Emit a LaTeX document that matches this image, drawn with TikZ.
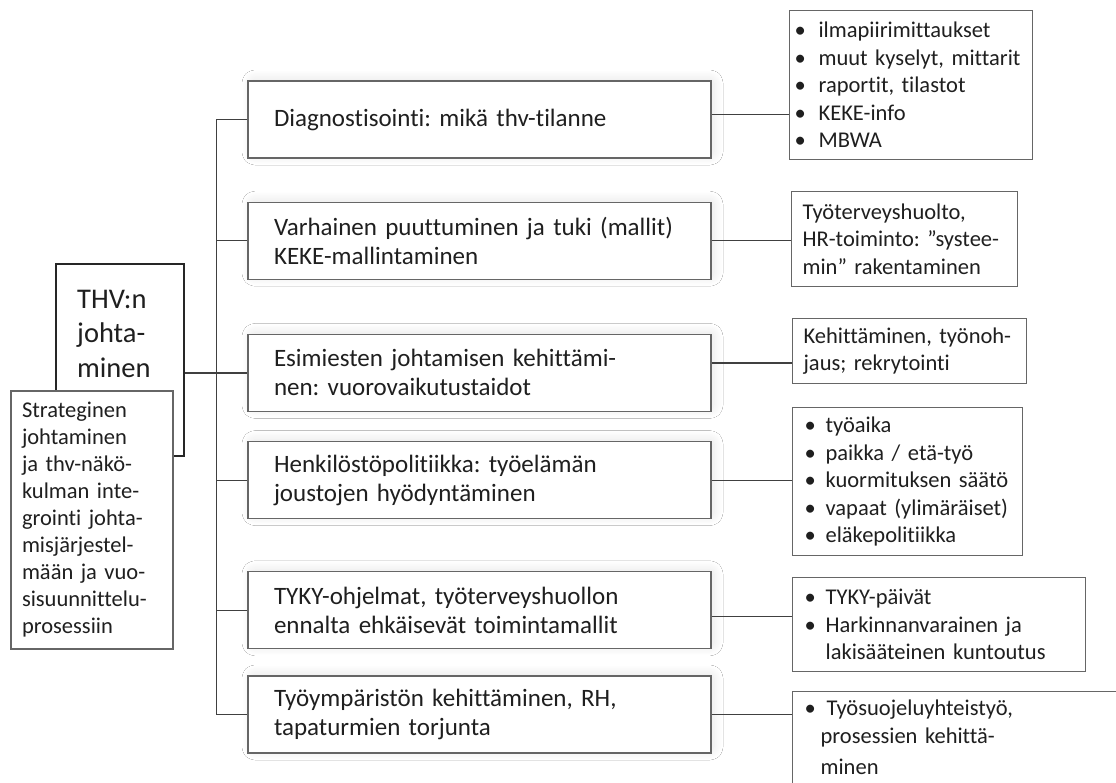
\documentclass[tikz,border=0pt]{standalone}
\usepackage{fontspec}
\setmainfont{Carlito}[Ligatures={NoCommon}]
\usetikzlibrary{positioning, shadows.blur}

\tikzset{
  leftbox/.style={draw=black!60, line width=1.2pt, fill=white, rectangle, minimum width=463pt, minimum height=77pt, text width=411pt, inner xsep=26pt, align=left, text=black!88, font=\fontsize{25}{29}\selectfont, blur shadow={shadow xshift=3pt, shadow yshift=2pt, shadow blur radius=9pt, shadow opacity=10, shadow blur steps=24, shadow blur extra rounding=4pt}},
  infobox/.style={draw=black!60, line width=1.2pt, fill=white, rectangle, anchor=north west, align=left, inner xsep=12pt, text=black!88, font=\fontsize{22.5}{27.5}\selectfont},
  conn/.style={draw=black!75, line width=1.2pt},
}
\newcommand{\bul}[1][21pt]{\makebox[#1][l]{\textbullet}}

\begin{document}
\frenchspacing
\begin{tikzpicture}[x=1pt, y=-1pt]
    \useasboundingbox (0,0) rectangle (1116,782);
    \clip (0,0) rectangle (1116,782);
    \fill[white] (0,0) rectangle (1116,782);

    % main box and the strategy note on top of it
    \node (thv) [draw=black!85, line width=2pt, rectangle, minimum width=128pt, minimum height=192pt] at (120,360) {};
    \node (thvtext) [anchor=north west, inner sep=0pt, align=left, text=black!88, font=\fontsize{28.5}{34.5}\selectfont] at (77,290) {THV:n\\johta-\\minen};
    \node (strat) [draw=black!60, line width=1.2pt, fill=white, rectangle, minimum width=162pt, minimum height=258pt, text width=140pt, inner xsep=11pt, align=left, text=black!88, font=\fontsize{22.5}{27}\selectfont] at (92,520)
      {Strateginen\\johtaminen\\ja thv-näkö-\\kulman inte-\\grointi johta-\\misjärjestel-\\mään ja vuo-\\sisuunnittelu-\\prosessiin};

    % middle column
    \node (diag) [leftbox] at (479.5,119.5) {Diagnostisointi: mikä thv-tilanne};
    \node (varh) [leftbox, below=43pt of diag] {Varhainen puuttuminen ja tuki (mallit)\\KEKE-mallintaminen};
    \node (esim) [leftbox, below=54pt of varh] {Esimiesten johtamisen kehittämi-\\nen: vuorovaikutustaidot};
    \node (henk) [leftbox, below=29pt of esim] {Henkilöstöpolitiikka: työelämän\\joustojen hyödyntäminen};
    \node (tyky) [leftbox, below=52pt of henk] {TYKY-ohjelmat, työterveyshuollon\\ennalta ehkäisevät toimintamallit};
    \node (ymp) [leftbox, below=26pt of tyky] {Työympäristön kehittäminen, RH,\\tapaturmien torjunta};

    % right column
    \node (diaginfo) [infobox, inner xsep=5pt, text width=233pt, minimum width=243pt, minimum height=149pt] at (789,10)
      {\bul[24pt]ilmapiirimittaukset\\\bul[24pt]muut kyselyt, mittarit\\\bul[24pt]raportit, tilastot\\\bul[24pt]KEKE-info\\\bul[24pt]MBWA};
    \node (varhinfo) [infobox, inner xsep=11pt, text width=204pt, minimum width=226pt, minimum height=95pt] at (791,191)
      {Työterveyshuolto,\\HR-toiminto: ”systee-\\min” rakentaminen};
    \node (esiminfo) [infobox, inner xsep=11pt, text width=212pt, minimum width=234pt, minimum height=65pt] at (792,318)
      {Kehittäminen, työnoh-\\jaus; rekrytointi};
    \node (henkinfo) [infobox, text width=206pt, minimum width=230pt, minimum height=148pt] at (792,407)
      {\bul työaika\\\bul paikka / etä-työ\\\bul kuormituksen säätö\\\bul vapaat (ylimäräiset)\\\bul eläkepolitiikka};
    \node (tykyinfo) [infobox, text width=269pt, minimum width=293pt, minimum height=94pt] at (792,577)
      {\bul TYKY-päivät\\\bul Harkinnanvarainen ja\\\hspace*{21pt}lakisääteinen kuntoutus};
    \node (ympinfo) [infobox, text width=316pt, minimum width=340pt, minimum height=92pt, font=\fontsize{22.5}{28}\selectfont] at (792,691)
      {\bul[22pt]Työsuojeluyhteistyö,\\\hspace*{16pt}prosessien kehittä-\\[3pt]\hspace*{16pt}minen};

    % connectors
    \draw[conn] (thv.east |- esim.west) -- (esim.west);
    \draw[conn] (diag.west) -- ++(-31,0) coordinate (trunk) |- (ymp.west);
    \draw[conn] (varh.west) -- (varh.west -| trunk);
    \draw[conn] (henk.west) -- (henk.west -| trunk);
    \draw[conn] (tyky.west) -- (tyky.west -| trunk);

    \draw[conn] ([yshift=5pt]diag.east) -- ([yshift=5pt]diag.east -| diaginfo.west);
    \draw[conn] (varh.east) -- (varh.east -| varhinfo.west);
    \draw[conn] ([yshift=10pt]esim.east) -- ([yshift=10pt]esim.east -| esiminfo.west);
    \draw[conn] (henk.east) -- (henk.east -| henkinfo.west);
    \draw[conn] ([yshift=-6pt]tyky.east) -- ([yshift=-6pt]tyky.east -| tykyinfo.west);
    \draw[conn] (ymp.east) -- (ymp.east -| ympinfo.west);
\end{tikzpicture}
\end{document}
